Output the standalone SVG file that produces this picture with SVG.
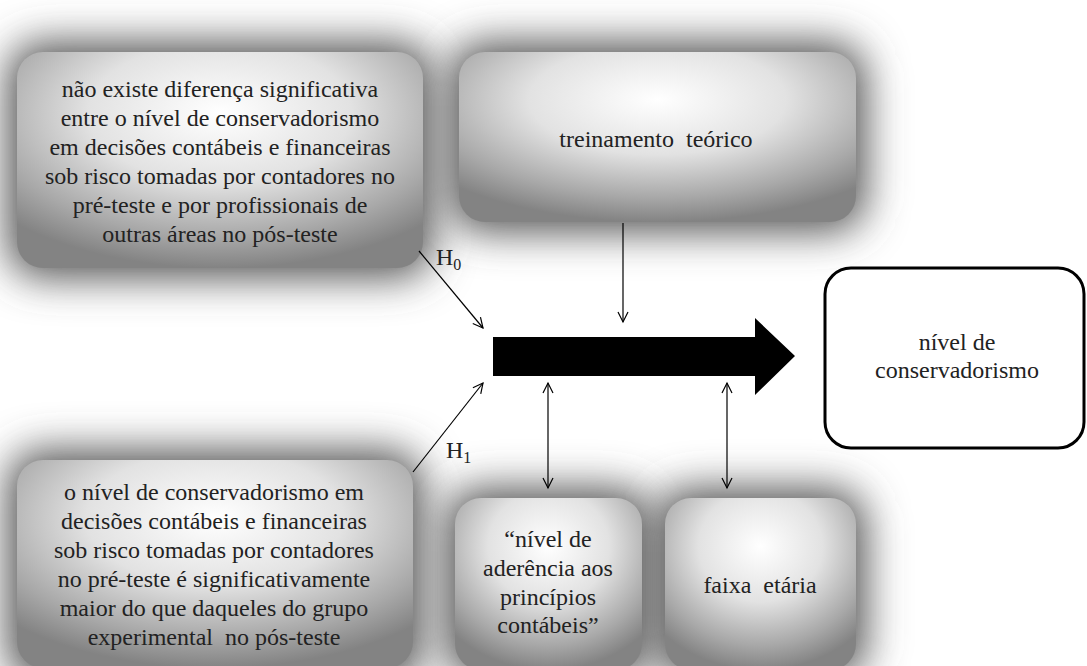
<svg xmlns="http://www.w3.org/2000/svg" width="1087" height="666" viewBox="0 0 1087 666">
<defs>
<radialGradient id="fillG" cx="50%" cy="28%" r="72%">
<stop offset="0" stop-color="#ffffff"/>
<stop offset="0.45" stop-color="#e2e2e2"/>
<stop offset="0.8" stop-color="#a8a8a8"/>
<stop offset="1" stop-color="#838383"/>
</radialGradient>
<filter id="glow" x="-40%" y="-50%" width="180%" height="200%">
<feGaussianBlur stdDeviation="20"/>
</filter>
<marker id="ah" markerUnits="userSpaceOnUse" markerWidth="14" markerHeight="14" viewBox="0 0 14 14" refX="12" refY="7" orient="auto-start-reverse">
<path d="M2,2 L12,7 L2,12" fill="none" stroke="#000" stroke-width="1.2"/>
</marker>
</defs>
<style>
.glow{fill:#555;filter:url(#glow)}
.box{fill:url(#fillG)}
text{font-family:'Liberation Serif','DejaVu Serif',serif}
.t{font-size:24px;fill:#222;text-anchor:middle}
.h{font-size:24px;fill:#222}
.hs{font-size:16px}
.ln{stroke:#000;stroke-width:1.2;fill:none}
</style>
<rect width="1087" height="666" fill="#fff"/>

<g id="glows">
<rect class="glow" x="7" y="42" width="426" height="236" rx="36"/>
<rect class="glow" x="449" y="42" width="417" height="190" rx="36"/>
<rect class="glow" x="7" y="450" width="416" height="234" rx="36"/>
<rect class="glow" x="445" y="488" width="207" height="192" rx="36"/>
<rect class="glow" x="655" y="488" width="211" height="192" rx="36"/>
</g>

<g id="node-h0">
<rect class="box" x="17" y="52" width="406" height="216" rx="26"/>
<text class="t" x="220" y="97">não existe diferença significativa</text>
<text class="t" x="220" y="126">entre o nível de conservadorismo</text>
<text class="t" x="220" y="155">em decisões contábeis e financeiras</text>
<text class="t" x="220" y="184">sob risco tomadas por contadores no</text>
<text class="t" x="220" y="213">pré-teste e por profissionais de</text>
<text class="t" x="220" y="242">outras áreas no pós-teste</text>
</g>

<g id="node-treinamento">
<rect class="box" x="459" y="52" width="397" height="170" rx="26"/>
<text class="t" x="656" y="147">treinamento&#160; teórico</text>
</g>

<g id="node-h1">
<rect class="box" x="17" y="460" width="396" height="208" rx="26"/>
<text class="t" x="214" y="500">o nível de conservadorismo em</text>
<text class="t" x="214" y="529">decisões contábeis e financeiras</text>
<text class="t" x="214" y="558">sob risco tomadas por contadores</text>
<text class="t" x="214" y="587">no pré-teste é significativamente</text>
<text class="t" x="214" y="616">maior do que daqueles do grupo</text>
<text class="t" x="214" y="645">experimental&#160; no pós-teste</text>
</g>

<g id="node-aderencia">
<rect class="box" x="455" y="498" width="187" height="172" rx="26"/>
<text class="t" x="548" y="547">“nível de</text>
<text class="t" x="548" y="576">aderência aos</text>
<text class="t" x="548" y="605">princípios</text>
<text class="t" x="548" y="633">contábeis”</text>
</g>

<g id="node-faixa">
<rect class="box" x="665" y="498" width="191" height="172" rx="26"/>
<text class="t" x="760" y="593">faixa&#160; etária</text>
</g>

<g id="node-resultado">
<rect x="825" y="268" width="259" height="180" rx="26" fill="#fff" stroke="#000" stroke-width="3"/>
<text class="t" x="957" y="350">nível de</text>
<text class="t" x="957" y="378">conservadorismo</text>
</g>

<g id="node-seta">
<polygon points="493,337 755,337 755,318 795,356 755,395 755,376 493,376" fill="#000"/>
</g>

<g id="connectors">
<line class="ln" x1="419" y1="251" x2="483" y2="328" marker-end="url(#ah)"/>
<line class="ln" x1="623" y1="223" x2="623" y2="322" marker-end="url(#ah)"/>
<line class="ln" x1="413" y1="472" x2="483" y2="383" marker-end="url(#ah)"/>
<line class="ln" x1="548" y1="383" x2="548" y2="488" marker-start="url(#ah)" marker-end="url(#ah)"/>
<line class="ln" x1="727" y1="383" x2="727" y2="488" marker-start="url(#ah)" marker-end="url(#ah)"/>
<text class="h" x="436" y="265">H<tspan class="hs" dy="5">0</tspan></text>
<text class="h" x="446" y="458">H<tspan class="hs" dy="5">1</tspan></text>
</g>
</svg>
